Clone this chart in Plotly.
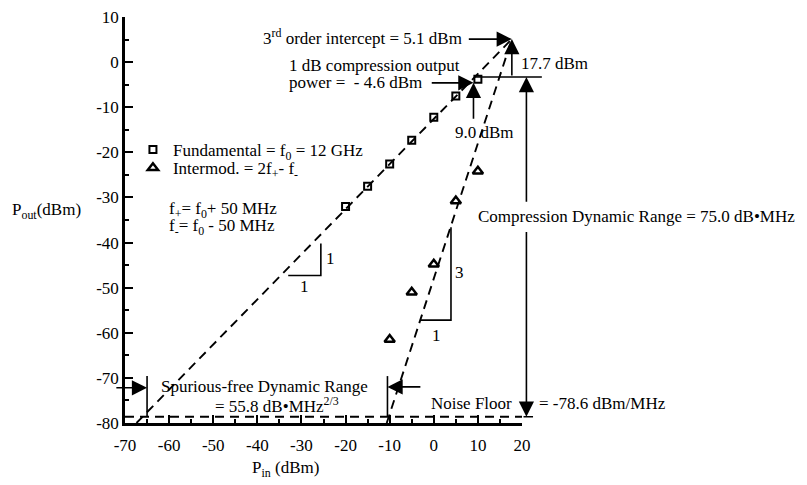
import plotly.graph_objects as go

# ---------------- data ----------------
pin_fund = [-20, -15, -10, -5, 0, 5, 10]
pout_fund = [-32.0, -27.5, -22.6, -17.3, -12.2, -7.5, -3.8]
pin_im = [-10, -5, 0, 5, 10]
pout_im = [-61.5, -51.0, -44.8, -30.8, -24.2]

x_ticks = [-70, -60, -50, -40, -30, -20, -10, 0, 10, 20]
x_ticklabels = ["-70", "-60", "-50", "-40", "-30", "-20", "-10", "0", "10", "20"]
y_ticks = [10, 0, -10, -20, -30, -40, -50, -60, -70, -80]
y_ticklabels = ["10", "0", "-10", "-20", "-30", "-40", "-50", "-60", "-70", "-80"]

iip3 = 17.7          # input 3rd order intercept (dBm)
oip3 = 5.1           # output 3rd order intercept (dBm)
p1db_in = 9.0        # 1 dB compression input (dBm)
p1db_out = -4.6      # 1 dB compression output (dBm)
noise_floor = -78.6  # dBm/MHz
comp_level = -3.3    # compression reference line
sfdr_lo = -65.0
sfdr_hi = -10.5

FONT = "Liberation Serif"
FS = 17

gain = oip3 - iip3
x_axis_min, x_axis_max = -70, 20
y_axis_min, y_axis_max = -80, 10
fund_x0 = y_axis_min - gain
im_x0 = iip3 + (y_axis_min - oip3) / 3.0


def fx(v):
    """data -> x domain fraction (same linear scale as the x axis)"""
    return (v - x_axis_min) / (x_axis_max - x_axis_min)


def fy(v):
    return (v - y_axis_min) / (y_axis_max - y_axis_min)


fig = go.Figure()

DASH = "9px,6px"
fig.add_trace(go.Scatter(x=[fund_x0, iip3], y=[y_axis_min, oip3], mode="lines",
                         line=dict(color="black", width=1.9, dash=DASH), showlegend=False, hoverinfo="skip"))
fig.add_trace(go.Scatter(x=[im_x0, iip3], y=[y_axis_min, oip3], mode="lines",
                         line=dict(color="black", width=1.9, dash=DASH), showlegend=False, hoverinfo="skip"))
fig.add_trace(go.Scatter(x=[x_axis_min, x_axis_max], y=[noise_floor, noise_floor], mode="lines",
                         line=dict(color="black", width=1.9, dash=DASH), showlegend=False, hoverinfo="skip"))

# slope triangles
fig.add_trace(go.Scatter(x=[-33.0, -25.6, -25.6], y=[-47.3, -47.3, -40.2], mode="lines",
                         line=dict(color="black", width=1.6), showlegend=False, hoverinfo="skip"))
fig.add_trace(go.Scatter(x=[-3.1, 3.9, 3.9], y=[-57.2, -57.2, -36.6], mode="lines",
                         line=dict(color="black", width=1.6), showlegend=False, hoverinfo="skip"))
# SFDR bars
for xb in (sfdr_lo, sfdr_hi):
    fig.add_trace(go.Scatter(x=[xb, xb], y=[-69.6, noise_floor], mode="lines",
                             line=dict(color="black", width=1.6), showlegend=False, hoverinfo="skip"))

fig.add_trace(go.Scatter(x=pin_fund, y=pout_fund, mode="markers",
                         name="Fundamental = f<sub>0</sub> = 12 GHz", legend="legend",
                         marker=dict(symbol="square-open", size=7, color="black", line=dict(width=2))))
fig.add_trace(go.Scatter(x=pin_im, y=pout_im, mode="markers",
                         name="Intermod. = 2f<sub>+</sub>- f<sub>-</sub>", legend="legend2",
                         marker=dict(symbol="triangle-up-open", size=9, color="black", line=dict(width=2.5))))


def arrow(x, y, ax, ay, head=2, width=1.6, size=1.9):
    fig.add_annotation(x=fx(x), y=fy(y), ax=fx(ax), ay=fy(ay),
                       xref="x domain", yref="y domain", axref="x domain", ayref="y domain",
                       text="", showarrow=True, arrowhead=head, arrowwidth=width,
                       arrowsize=size, arrowcolor="black")


TY = 0.2  # small vertical nudge of text baseline


def label(x, y, text, xanchor="left", yanchor="middle"):
    fig.add_annotation(x=fx(x), y=fy(y + TY), xref="x domain", yref="y domain", text=text,
                       showarrow=False, xanchor=xanchor, yanchor=yanchor,
                       font=dict(family=FONT, size=FS, color="black"))


# arrows / reference lines
arrow(iip3, oip3, 7.6, oip3)                  # 3rd order intercept
arrow(p1db_in, p1db_out, -0.8, p1db_out)      # 1 dB compression
arrow(p1db_in, p1db_out, p1db_in, -12.9)      # 9.0 dBm
arrow(iip3, oip3, iip3, comp_level)           # 17.7 dBm
arrow(24.5, comp_level, p1db_in, comp_level, head=0)   # compression line
arrow(21.0, comp_level, 21.0, -31.3)          # compression DR up
arrow(21.0, noise_floor, 21.0, -37.3)         # compression DR down
arrow(22.5, noise_floor, 20.0, noise_floor, head=0)  # noise floor bar
arrow(sfdr_lo, -72.2, -72.3, -72.2)           # SFDR left
arrow(sfdr_hi, -72.0, -2.7, -72.0)            # SFDR right

# texts
label(6.8, 5.3, "3<sup>rd</sup> order intercept = 5.1 dBm", xanchor="right")
label(-33.3, -1.0, "1 dB compression output")
label(-33.3, -4.7, "power =  - 4.6 dBm")
label(19.3, -0.4, "17.7 dBm")
label(11.6, -15.8, "9.0 dBm", xanchor="center")
label(9.6, -34.4, "Compression Dynamic Range = 75.0 dB\u2022MHz")
label(18.2, -75.8, "Noise Floor", xanchor="right")
label(23.4, -75.8, "= -78.6 dBm/MHz")
label(-38.3, -72.2, "Spurious-free Dynamic Range", xanchor="center")
label(-35.5, -76.2, "= 55.8 dB\u2022MHz<sup>2/3</sup>", xanchor="center")
label(-60.5, -32.9, "f<sub>+</sub>= f<sub>0</sub>+ 50 MHz")
label(-60.5, -36.7, "f<sub>-</sub>= f<sub>0</sub> - 50 MHz")
label(-25.0, -43.8, "1")
label(-29.2, -50.0, "1", xanchor="center")
label(4.4, -46.9, "3")
label(0.7, -60.7, "1", xanchor="center")
label(-96.0, -33.1, "P<sub>out</sub>(dBm)")
label(-33.7, -90.3, "P<sub>in</sub> (dBm)", xanchor="center")

axis_common = dict(showgrid=False, zeroline=False, showline=True, linecolor="black", linewidth=2.5,
                   ticks="inside", ticklen=8, tickwidth=1.8, tickcolor="black",
                   ticklabeloverflow="allow",
                   tickfont=dict(family=FONT, size=FS, color="black"),
                   minor=dict(ticks="inside", ticklen=4, tickwidth=1.5, tickcolor="black", dtick=5))

fig.update_xaxes(range=[x_axis_min, x_axis_max], tickvals=x_ticks, ticktext=x_ticklabels,
                 ticklabelstandoff=5, **axis_common)
fig.update_yaxes(range=[y_axis_min, y_axis_max], tickvals=y_ticks, ticktext=y_ticklabels,
                 **axis_common)

legend_common = dict(xanchor="left", yanchor="top", bgcolor="rgba(0,0,0,0)",
                     font=dict(family=FONT, size=FS, color="black"), itemwidth=30)

# page body adds an 8px offset: figure is sized to fit the 807x485 window
fig.update_layout(
    width=799, height=477,
    margin=dict(l=117, r=285, t=9, b=62, autoexpand=False),
    paper_bgcolor="white", plot_bgcolor="white",
    font=dict(family=FONT, size=FS, color="black"),
    showlegend=True,
    legend=dict(x=0.02, y=0.717, **legend_common),
    legend2=dict(x=0.02, y=0.672, **legend_common),
)

fig.write_html("out.html")
